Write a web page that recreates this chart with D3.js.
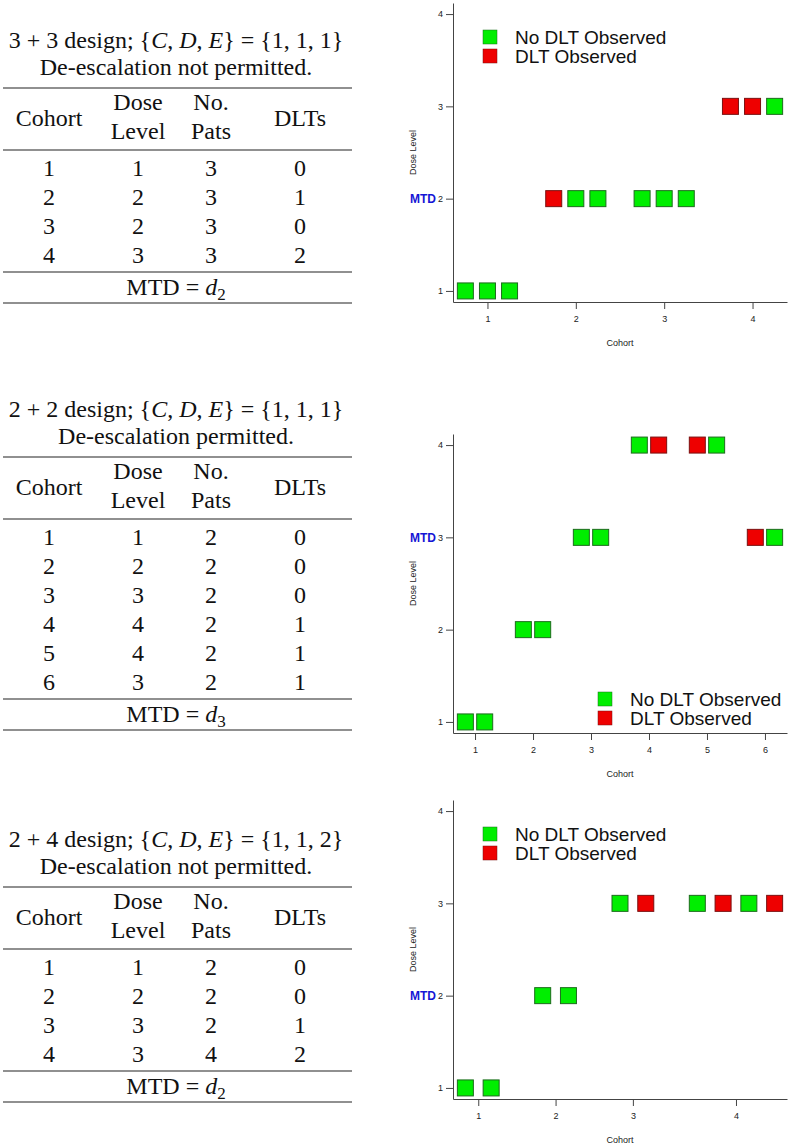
<!DOCTYPE html>
<html>
<head>
<meta charset="utf-8">
<script src="https://cdn.jsdelivr.net/npm/d3@7"></script>
<style>
    body { margin: 0; background: #fff; }
    svg { display: block; }
    .tbl text { font-family: "Liberation Serif", "Times New Roman", serif; font-size: 24px; fill: #111; }
    .axis text { font-family: "Liberation Sans", Arial, sans-serif; font-size: 9px; fill: #222; }
    .axis path, .axis line { stroke: #444; }
</style>
</head>
<body>
<div id="chart"></div>
<script>
// design 1: 3 + 3, no de-escalation
const titles1 = ["3 + 3 design;", "{1, 1, 1}", "De-escalation not permitted."];
const dose1 = [1, 2, 2, 3];
const pats1 = [3, 3, 3, 3];
const dlts1 = [0, 1, 0, 2];
const outcome1 = [[0, 0, 0], [1, 0, 0], [0, 0, 0], [1, 1, 0]];  // 1 = DLT
const mtd1 = 2;

// design 2: 2 + 2, de-escalation allowed
const titles2 = ["2 + 2 design;", "{1, 1, 1}", "De-escalation permitted."];
const dose2 = [1, 2, 3, 4, 4, 3];
const pats2 = [2, 2, 2, 2, 2, 2];
const dlts2 = [0, 0, 0, 1, 1, 1];
const outcome2 = [[0, 0], [0, 0], [0, 0], [0, 1], [1, 0], [1, 0]];
const mtd2 = 3;

// design 3: 2 + 4
const titles3 = ["2 + 4 design;", "{1, 1, 2}", "De-escalation not permitted."];
const dose3 = [1, 2, 3, 3];
const pats3 = [2, 2, 2, 4];
const dlts3 = [0, 0, 1, 2];
const outcome3 = [[0, 0], [0, 0], [0, 1], [0, 1, 0, 1]];
const mtd3 = 2;

const doseTicks = [1, 2, 3, 4];
const legendLabels = ["No DLT Observed", "DLT Observed"];
const fillCol = ["#00ee00", "#ee0000"];
const strokeCol = ["#1d6b1d", "#7a1010"];

const W = 790, H = 1146;
const svg = d3.select("#chart").append("svg").attr("width", W).attr("height", H);

function drawTable(top, titles, dose, pats, dlts, mtd) {
    const g = svg.append("g").attr("class", "tbl");
    const cx = [49, 138, 211, 300];
    const midX = 176;

    const t1 = g.append("text").attr("x", midX).attr("y", top - 40).attr("text-anchor", "middle");
    t1.append("tspan").text(titles[0] + " {");
    t1.append("tspan").attr("font-style", "italic").text("C");
    t1.append("tspan").text(", ");
    t1.append("tspan").attr("font-style", "italic").text("D");
    t1.append("tspan").text(", ");
    t1.append("tspan").attr("font-style", "italic").text("E");
    t1.append("tspan").text("} = " + titles[1]);
    g.append("text").attr("x", midX).attr("y", top - 13).attr("text-anchor", "middle").text(titles[2]);

    const rule = y => g.append("line").attr("x1", 3).attr("x2", 352).attr("y1", y).attr("y2", y)
        .attr("stroke", "#222").attr("stroke-width", 1.2);
    rule(top);

    g.append("text").attr("x", cx[0]).attr("y", top + 38).attr("text-anchor", "middle").text("Cohort");
    g.append("text").attr("x", cx[1]).attr("y", top + 22).attr("text-anchor", "middle").text("Dose");
    g.append("text").attr("x", cx[1]).attr("y", top + 51).attr("text-anchor", "middle").text("Level");
    g.append("text").attr("x", cx[2]).attr("y", top + 22).attr("text-anchor", "middle").text("No.");
    g.append("text").attr("x", cx[2]).attr("y", top + 51).attr("text-anchor", "middle").text("Pats");
    g.append("text").attr("x", cx[3]).attr("y", top + 38).attr("text-anchor", "middle").text("DLTs");

    const mid = top + 62;
    rule(mid);
    const rows = dose.map((d, i) => [i + 1, d, pats[i], dlts[i]]);
    rows.forEach((r, i) => {
        r.forEach((v, j) => {
            g.append("text").attr("x", cx[j]).attr("y", mid + 26 + i * 29)
                .attr("text-anchor", "middle").text(v);
        });
    });
    const end = mid + 17 + (rows.length - 1) * 29 + 18;
    rule(end);
    const m = g.append("text").attr("x", midX).attr("y", end + 23).attr("text-anchor", "middle");
    m.append("tspan").text("MTD = ");
    m.append("tspan").attr("font-style", "italic").text("d");
    m.append("tspan").attr("font-size", "17px").attr("dy", 5).text(mtd);
    rule(end + 31);
}

function drawPanel(off, dose, outcome, mtd, legendPos) {
    // lay patients out in slots, one empty slot between cohorts
    const pts = [], tickPos = [];
    let s = 0;
    outcome.forEach((pat, i) => {
        pat.forEach((o, k) => pts.push({x: s + k, y: dose[i], dlt: o}));
        tickPos.push(s + (pat.length - 1) / 2);
        s += pat.length + 1;
    });
    const xMax = s - 2;

    const x = d3.scaleLinear().domain([-0.04 * xMax, xMax * 1.04]).range([453, 787]);
    const y = d3.scaleLinear().domain([0.88, 4.12]).range([off + 302, off + 3]);

    const g = svg.append("g");

    g.append("g").attr("class", "axis")
        .attr("transform", `translate(0,${off + 302})`)
        .call(d3.axisBottom(x).tickValues(tickPos).tickFormat((d, i) => i + 1).tickSize(7).tickSizeOuter(0).tickPadding(7));
    g.append("g").attr("class", "axis")
        .attr("transform", "translate(453,0)")
        .call(d3.axisLeft(y).tickValues(doseTicks).tickFormat(d3.format("d")).tickSize(7).tickSizeOuter(0).tickPadding(3));

    g.append("text").attr("x", 620).attr("y", off + 346).attr("text-anchor", "middle")
        .style("font", "9px 'Liberation Sans', Arial, sans-serif").attr("fill", "#222").text("Cohort");
    g.append("text").attr("transform", `translate(416,${y(2.5)}) rotate(-90)`).attr("text-anchor", "middle")
        .style("font", "9px 'Liberation Sans', Arial, sans-serif").attr("fill", "#222").text("Dose Level");

    g.append("text").attr("x", 436).attr("y", y(mtd) + 4.5).attr("text-anchor", "end")
        .style("font", "bold 12px 'Liberation Sans', Arial, sans-serif").attr("fill", "#1515d5").text("MTD");

    const sz = 16;
    g.selectAll("rect.pt").data(pts).enter().append("rect")
        .attr("class", "pt")
        .attr("x", d => x(d.x) - sz / 2)
        .attr("y", d => y(d.y) - sz / 2)
        .attr("width", sz).attr("height", sz)
        .attr("fill", d => fillCol[d.dlt])
        .attr("stroke", d => strokeCol[d.dlt])
        .attr("stroke-width", 1);

    const lg = g.append("g").attr("transform", `translate(${legendPos[0]},${off + legendPos[1]})`);
    legendLabels.forEach((lab, i) => {
        lg.append("rect").attr("x", -7).attr("y", i * 19 - 7).attr("width", 14).attr("height", 14)
            .attr("fill", fillCol[i]).attr("stroke", strokeCol[i]).attr("stroke-width", 0.5);
        lg.append("text").attr("x", 25).attr("y", i * 19 + 7)
            .style("font", "19px 'Liberation Sans', Arial, sans-serif").attr("fill", "#111").text(lab);
    });
}

drawTable(88, titles1, dose1, pats1, dlts1, mtd1);
drawTable(457, titles2, dose2, pats2, dlts2, mtd2);
drawTable(887, titles3, dose3, pats3, dlts3, mtd3);

drawPanel(0, dose1, outcome1, mtd1, [490, 37]);
drawPanel(431, dose2, outcome2, mtd2, [605, 268]);
drawPanel(797, dose3, outcome3, mtd3, [490, 37]);
</script>
</body>
</html>
